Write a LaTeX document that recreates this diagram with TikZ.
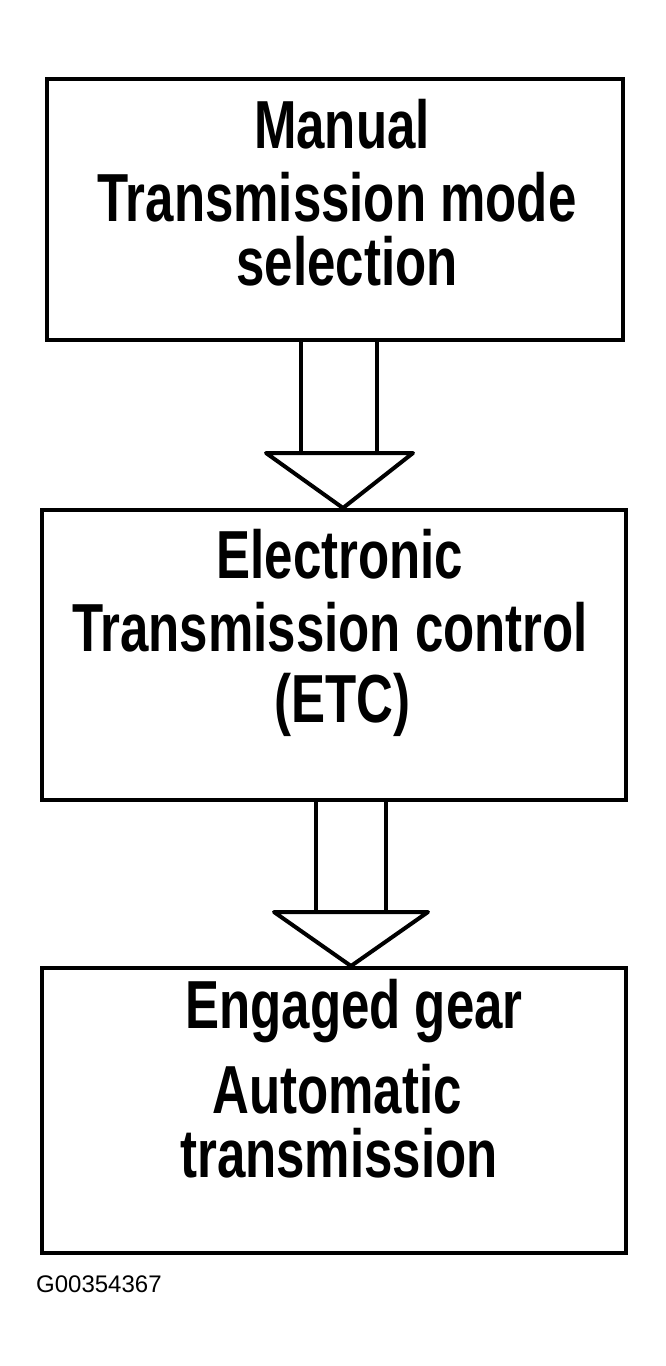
\documentclass[tikz,border=0pt]{standalone}
\usepackage{fontspec}
\setmainfont{Liberation Sans}
\newfontfamily\labfont{Liberation Sans Bold}[FakeStretch=0.75]
\usetikzlibrary{calc}
\tikzset{
  box/.style={draw=black, line width=4pt, rectangle, inner sep=0pt},
  lab/.style={font=\labfont\fontsize{68}{68}\selectfont, anchor=base, inner sep=0pt},
  blockarrow/.style={draw=black, line width=4pt, line join=round, fill=white},
  idlab/.style={font=\fontsize{24}{24}\selectfont, anchor=base west, inner sep=0pt}
}
\begin{document}
\begin{tikzpicture}[x=1pt,y=-1pt]
\useasboundingbox (0,0) rectangle (666,1366);
\fill[white] (0,0) rectangle (666,1366);
% boxes
\node[box, minimum width=576pt, minimum height=261pt] (b1) at (335,209) {};
\node[box, minimum width=584pt, minimum height=290pt] (b2) at (334,655) {};
\node[box, minimum width=584pt, minimum height=285pt] (b3) at (334,1110.5) {};
% texts
\node[lab] (t11) at (342,148) {Manual};
\node[lab] (t12) at (337,221) {Transmission mode};
\node[lab] (t13) at (347,285) {selection};
\node[lab] (t21) at (340,578) {Electronic};
\node[lab] (t22) at (330,651) {Transmission control};
\node[lab] (t23) at (342,722) {(ETC)};
\node[lab] (t31) at (354,1028) {Engaged gear};
\node[lab] (t32) at (337,1113) {Automatic};
\node[lab] (t33) at (339,1177) {transmission};
\node[idlab] (id) at (36,1292) {G00354367};
% arrows
\draw[blockarrow] (301,0 |- b1.south) -- (301,453);
\draw[blockarrow] (377,0 |- b1.south) -- (377,453);
\draw[blockarrow] (266,453) -- (343,0 |- b2.north) -- (413,453) -- cycle;
\draw[blockarrow] (316,0 |- b2.south) -- (316,912);
\draw[blockarrow] (386,0 |- b2.south) -- (386,912);
\draw[blockarrow] (274,912) -- (351,0 |- b3.north) -- (428,912) -- cycle;
\end{tikzpicture}
\end{document}
